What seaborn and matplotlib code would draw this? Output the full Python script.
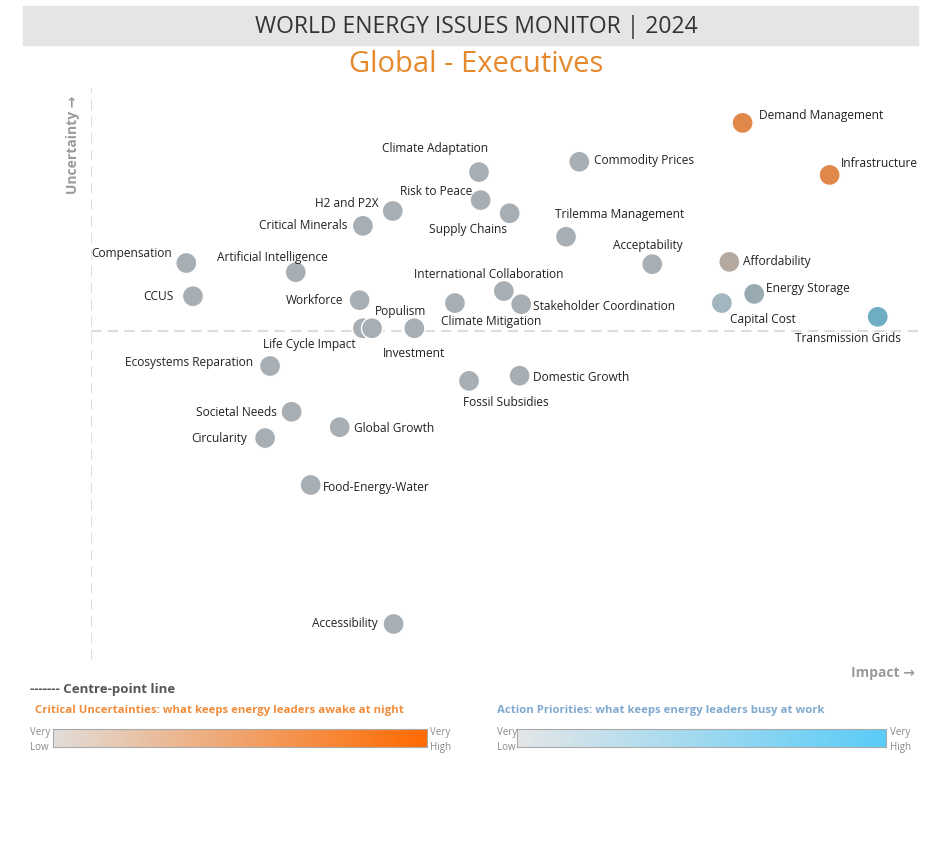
import numpy as np
import pandas as pd
import seaborn as sns
import matplotlib.pyplot as plt
from matplotlib.colors import LinearSegmentedColormap
from matplotlib import font_manager

sns.set_style("white")
names = {f.name for f in font_manager.fontManager.ttflist}
head_font = "Liberation Sans Narrow" if "Liberation Sans Narrow" in names else "Open Sans"
plt.rcParams['font.family'] = ['Open Sans', 'DejaVu Sans']

# issue data: impact (x) and uncertainty (y) on a 0-10 scale
issues = ["Demand Management", "Infrastructure", "Commodity Prices", "Climate Adaptation",
          "Risk to Peace", "Supply Chains", "H2 and P2X", "Critical Minerals",
          "Trilemma Management", "Acceptability", "Affordability", "Compensation",
          "Artificial Intelligence", "International Collaboration", "Energy Storage", "CCUS",
          "Workforce", "Climate Mitigation", "Stakeholder Coordination", "Capital Cost",
          "Transmission Grids", "Life Cycle Impact", "Populism", "Investment",
          "Ecosystems Reparation", "Fossil Subsidies", "Domestic Growth", "Societal Needs",
          "Global Growth", "Circularity", "Food-Energy-Water", "Accessibility"]
impact = [7.86, 8.91, 5.89, 4.68, 4.70, 5.05, 3.64, 3.28, 5.73, 6.77, 7.70, 1.15,
          2.47, 4.98, 8.00, 1.23, 3.24, 4.39, 5.19, 7.61, 9.49, 3.28, 3.39, 3.90,
          2.16, 4.56, 5.17, 2.42, 3.00, 2.10, 2.65, 3.65]
uncertainty = [9.39, 8.48, 8.71, 8.53, 8.04, 7.81, 7.85, 7.59, 7.40, 6.92, 6.96, 6.94,
               6.78, 6.45, 6.40, 6.36, 6.29, 6.24, 6.22, 6.24, 6.00, 5.80, 5.80, 5.80,
               5.14, 4.88, 4.97, 4.34, 4.07, 3.88, 3.06, 0.63]
centre_uncertainty = 5.75

df = pd.DataFrame({"issue": issues, "impact": impact, "uncertainty": uncertainty})

grey = "#a7afb5"
special = {"Demand Management": "#e0874a", "Infrastructure": "#e0874a",
           "Affordability": "#b5a99f", "Energy Storage": "#98a9af",
           "Capital Cost": "#a3b6c0", "Transmission Grids": "#6fadc2"}
palette = {n: special.get(n, grey) for n in issues}

# label placement: dx, dy in pixels, alignment
place = {
    "Demand Management": (16, 7, "left"), "Infrastructure": (11, 11, "left"),
    "Commodity Prices": (15, 1, "left"), "Climate Adaptation": (-44, 24, "center"),
    "Risk to Peace": (-8, 9, "right"), "Supply Chains": (-3, -16, "right"),
    "H2 and P2X": (-14, 7, "right"), "Critical Minerals": (-16, 0, "right"),
    "Trilemma Management": (-11, 22, "left"), "Acceptability": (-4, 19, "center"),
    "Affordability": (14, 0, "left"), "Compensation": (-14, 10, "right"),
    "Artificial Intelligence": (-23, 15, "center"),
    "International Collaboration": (-15, 17, "center"),
    "Energy Storage": (12, 5, "left"), "CCUS": (-19, 0, "right"),
    "Workforce": (-16, 0, "right"), "Climate Mitigation": (36, -18, "center"),
    "Stakeholder Coordination": (12, -2, "left"), "Capital Cost": (8, -16, "left"),
    "Transmission Grids": (23, -22, "right"), "Life Cycle Impact": (-7, -16, "right"),
    "Populism": (3, 17, "left"), "Investment": (0, -25, "center"),
    "Ecosystems Reparation": (-17, 3, "right"), "Fossil Subsidies": (37, -22, "center"),
    "Domestic Growth": (13, -2, "left"), "Societal Needs": (-15, -1, "right"),
    "Global Growth": (14, -1, "left"), "Circularity": (-18, 0, "right"),
    "Food-Energy-Water": (12, -3, "left"), "Accessibility": (-16, 0, "right"),
}

fig = plt.figure(figsize=(9.31, 8.41), dpi=100)
W, H = 931, 841

# header
fig.patches.append(plt.Rectangle((23 / W, 1 - 45 / H), 895 / W, 39 / H,
                                 transform=fig.transFigure, color="#e5e5e5", zorder=0))
fig.text(476 / W, 1 - 27 / H, "WORLD ENERGY ISSUES MONITOR | 2024", ha="center", va="center",
         fontsize=16.5, color="#333333", family=[head_font, 'DejaVu Sans'])
fig.text(476 / W, 1 - 64 / H, "Global - Executives", ha="center", va="center",
         fontsize=21, color="#e5892c", family=[head_font, 'DejaVu Sans'])

ax = fig.add_axes([91 / W, 1 - 660 / H, 829 / W, 572 / H])
ax.set_xlim(0, 10)
ax.set_ylim(0, 10)
ax.axvline(0, color="#dddddd", lw=1.5, ls=(0, (5, 3)), zorder=0)
ax.axhline(centre_uncertainty, color="#dddddd", lw=1.5, ls=(0, (5, 3)), zorder=0)

sns.scatterplot(data=df, x="impact", y="uncertainty", hue="issue", palette=palette,
                s=230, edgecolor="white", linewidth=1, legend=False, ax=ax, zorder=3)

for n, x, y in zip(issues, impact, uncertainty):
    dx, dy, ha = place[n]
    ax.annotate(n, (x, y), xytext=(dx, dy), textcoords="offset pixels",
                ha=ha, va="center", fontsize=8.6, color="#222222", zorder=4)

ax.set_xticks([])
ax.set_yticks([])
ax.set_xlabel("")
ax.set_ylabel("")
for s in ax.spines.values():
    s.set_visible(False)

fig.text(73 / W, 1 - 145 / H, "Uncertainty \u2192", rotation=90, ha="center", va="center",
         fontsize=10, fontweight="bold", color="#9a9a9a")
fig.text(915 / W, 1 - 673 / H, "Impact \u2192", ha="right", va="center",
         fontsize=10, fontweight="bold", color="#9a9a9a")

# legend area
fig.text(30 / W, 1 - 690 / H, "------- Centre-point line", ha="left", va="center",
         fontsize=9.5, fontweight="bold", color="#555555", family=[head_font, 'DejaVu Sans'])
fig.text(35 / W, 1 - 711 / H, "Critical Uncertainties: what keeps energy leaders awake at night",
         ha="left", va="center", fontsize=8.2, fontweight="bold", color="#f08c3a",
         family=[head_font, 'DejaVu Sans'])
fig.text(497 / W, 1 - 711 / H, "Action Priorities: what keeps energy leaders busy at work",
         ha="left", va="center", fontsize=8.2, fontweight="bold", color="#80a9cf",
         family=[head_font, 'DejaVu Sans'])

grad = np.linspace(0, 1, 256).reshape(1, -1)
bars = [(53, 374, ["#e2ddd9", "#ff6a00"], 30, 430),
        (517, 369, ["#e4e6e8", "#5accf8"], 497, 890)]
for x0, w, cols, lowx, highx in bars:
    cax = fig.add_axes([x0 / W, 1 - 747 / H, w / W, 18 / H])
    cax.imshow(grad, aspect="auto", cmap=LinearSegmentedColormap.from_list("g", cols))
    cax.set_xticks([])
    cax.set_yticks([])
    for s in cax.spines.values():
        s.set_color("#aaaaaa")
        s.set_linewidth(0.8)
    fig.text(lowx / W, 1 - 740 / H, "Very\nLow", ha="left", va="center", fontsize=7,
             color="#888888", linespacing=1.4, family=[head_font, 'DejaVu Sans'])
    fig.text(highx / W, 1 - 740 / H, "Very\nHigh", ha="left", va="center", fontsize=7,
             color="#888888", linespacing=1.4, family=[head_font, 'DejaVu Sans'])

plt.savefig("out.png", dpi=100)
